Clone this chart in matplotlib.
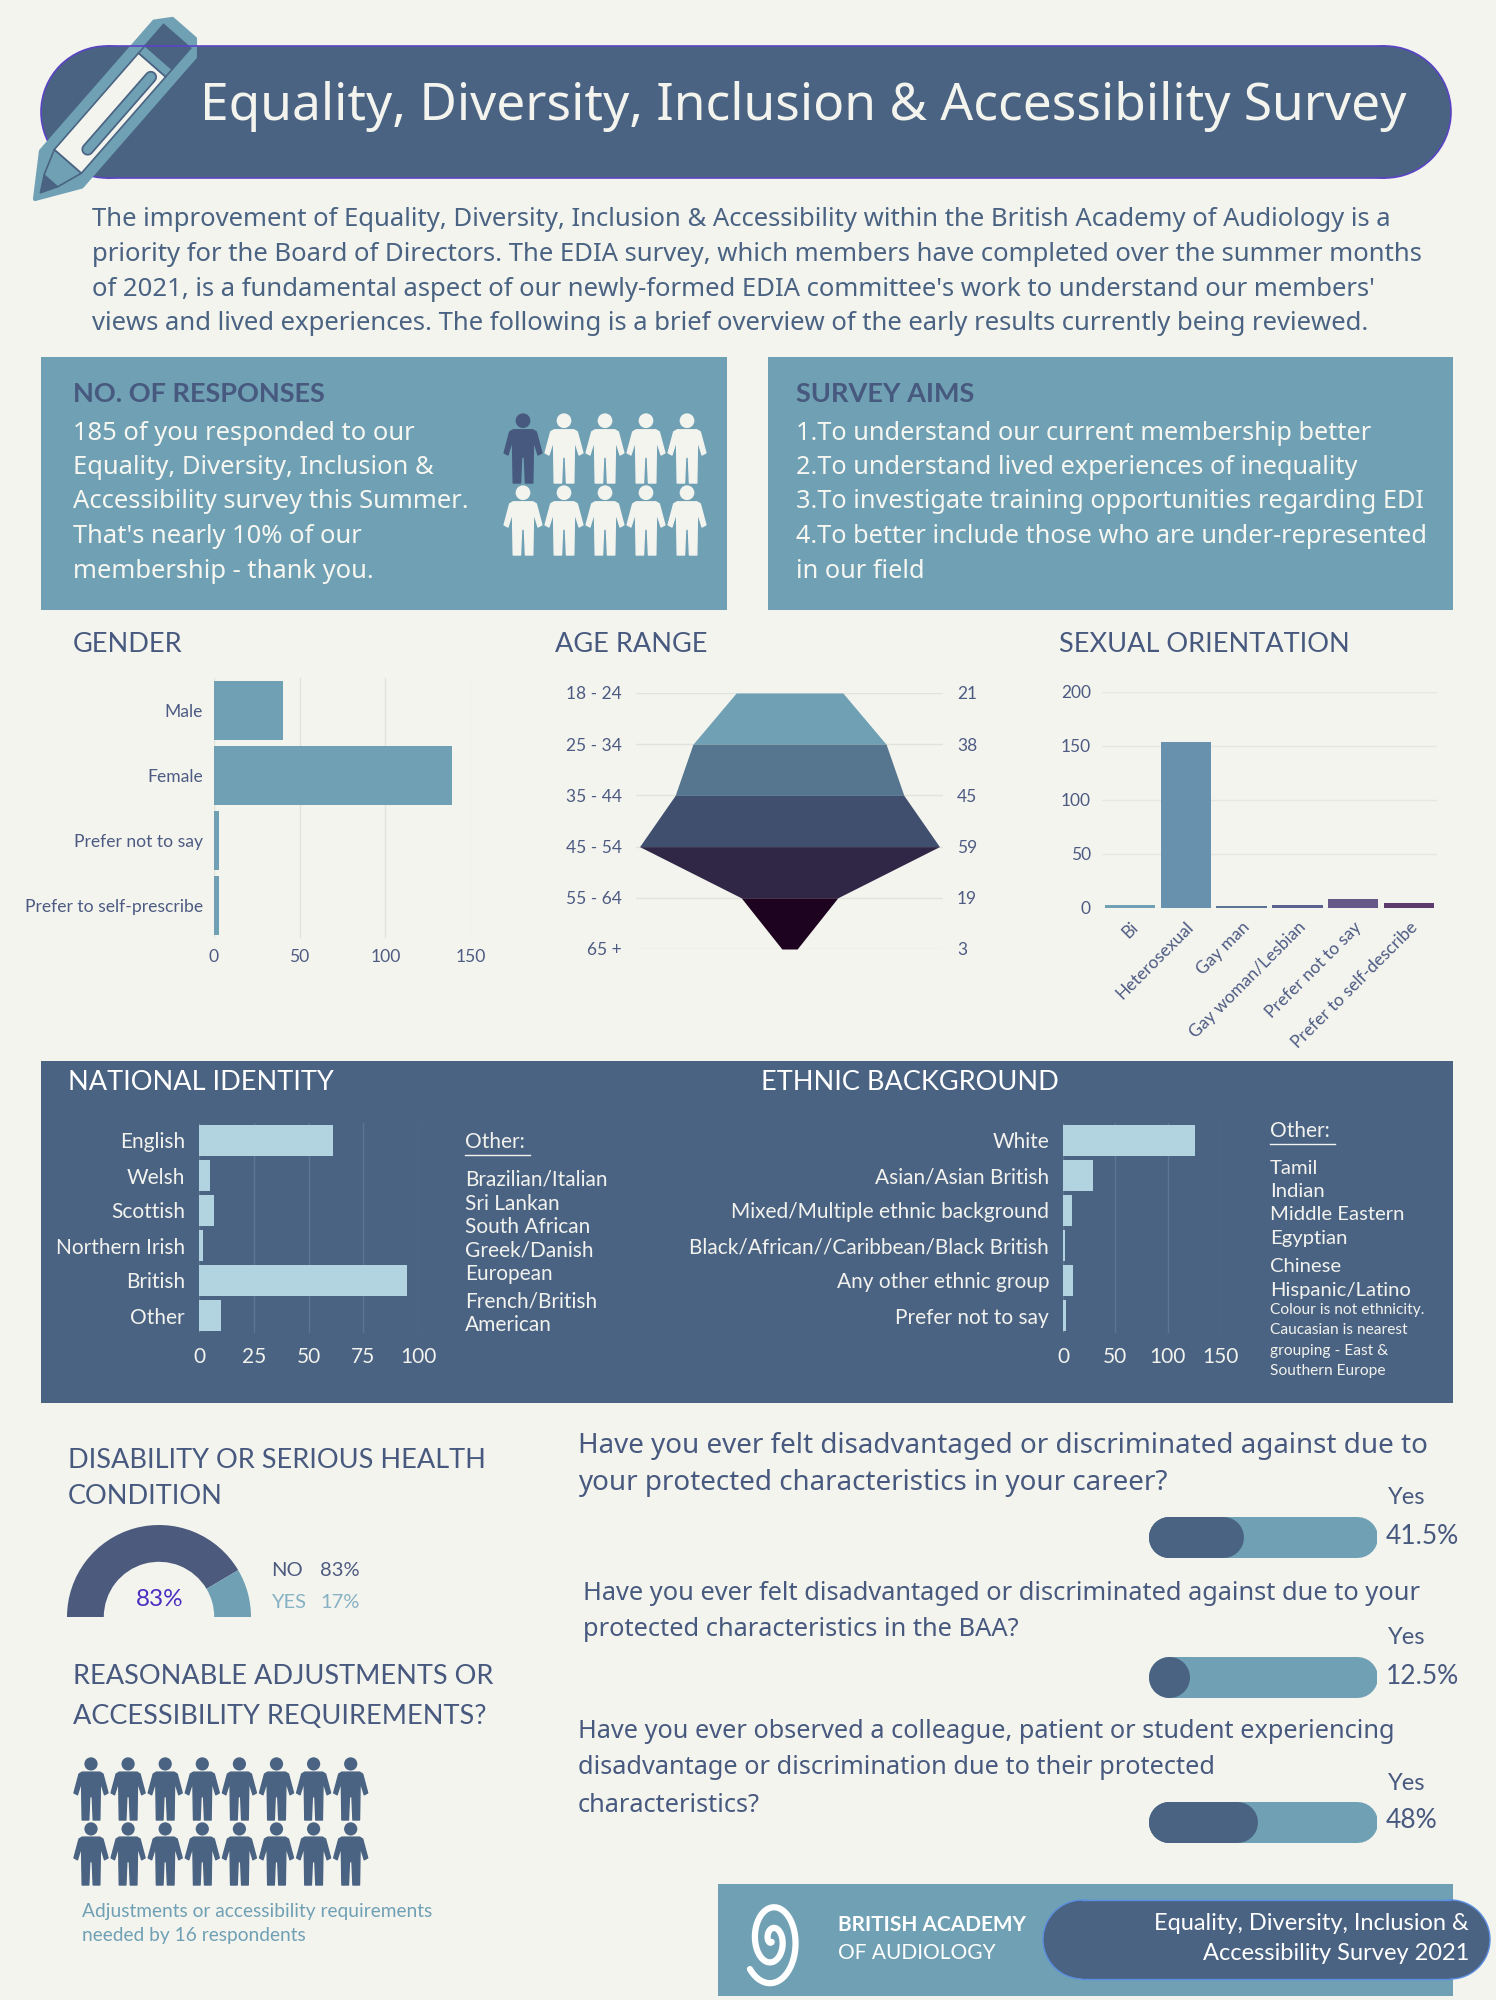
import numpy as np
import matplotlib.pyplot as plt
from matplotlib.patches import Polygon, Circle

plt.rcParams['font.family'] = ['Lato', 'DejaVu Sans']
BODY = ['Noto Sans', 'DejaVu Sans']

# ---- data ----
gender_labels = ["Male", "Female", "Prefer not to say", "Prefer to self-prescribe"]
gender_values = [40, 139, 3, 3]

age_labels = ["18 - 24", "25 - 34", "35 - 44", "45 - 54", "55 - 64", "65 +"]
age_values = [21, 38, 45, 59, 19, 3]

orient_labels = ["Bi", "Heterosexual", "Gay man", "Gay woman/Lesbian",
                 "Prefer not to say", "Prefer to self-describe"]
orient_values = [3, 154, 2, 3, 8, 5]

nat_labels = ["English", "Welsh", "Scottish", "Northern Irish", "British", "Other"]
nat_values = [61, 5, 7, 2, 95, 10]
nat_other = ["Brazilian/Italian", "Sri Lankan", "South African", "Greek/Danish",
             "European", "French/British", "American"]

eth_labels = ["White", "Asian/Asian British", "Mixed/Multiple ethnic background",
              "Black/African//Caribbean/Black British", "Any other ethnic group",
              "Prefer not to say"]
eth_values = [126, 29, 9, 2, 10, 3]
eth_other = ["Tamil", "Indian", "Middle Eastern", "Egyptian", "Chinese", "Hispanic/Latino"]
eth_note = ["Colour is not ethnicity.", "Caucasian is nearest", "grouping - East &",
            "Southern Europe"]

disability_labels = ["NO", "YES"]
disability_values = [83, 17]

questions = [
    ["Have you ever felt disadvantaged or discriminated against due to",
     "your protected characteristics in your career?"],
    ["Have you ever felt disadvantaged or discriminated against due to your",
     "protected characteristics in the BAA?"],
    ["Have you ever observed a colleague, patient or student experiencing",
     "disadvantage or discrimination due to their protected",
     "characteristics?"],
]
question_yes = [41.5, 12.5, 48]
question_yes_text = ["41.5%", "12.5%", "48%"]

responses_total = 185
adjustments_count = 16

# ---- colours ----
BG = "#f4f4ef"
TEAL = "#6fa0b4"
NAVY = "#4a6382"
INK = "#47597e"
LIGHT = "#b1d4e0"
W, H = 1496, 2000

fig = plt.figure(figsize=(W / 100, H / 100), dpi=100, facecolor=BG)
bg = fig.add_axes([0, 0, 1, 1])
bg.set_xlim(0, W)
bg.set_ylim(H, 0)
bg.axis('off')


def px_axes(x0, y0, x1, y1):
    a = fig.add_axes([x0 / W, 1 - y1 / H, (x1 - x0) / W, (y1 - y0) / H])
    a.set_facecolor('none')
    return a


def person(cx, top, h, color):
    pts = [(-0.14, 0.24), (0.14, 0.24), (0.19, 0.27), (0.27, 0.57), (0.215, 0.60),
           (0.15, 0.39), (0.14, 1.0), (0.035, 1.0), (0.02, 0.63), (-0.02, 0.63),
           (-0.035, 1.0), (-0.14, 1.0), (-0.15, 0.39), (-0.215, 0.60), (-0.27, 0.57),
           (-0.19, 0.27)]
    bg.add_patch(Polygon([(cx + x * h, top + y * h) for x, y in pts], closed=True,
                         fc=color, ec=color, lw=1, joinstyle='round'))
    bg.add_patch(Circle((cx, top + 0.11 * h), 0.105 * h, fc=color, ec='none'))


def pill(x0, y0, x1, y1, fc, ec='none', lw=0):
    r = (y1 - y0) / 2
    bg.add_patch(Circle((x0 + r, y0 + r), r, fc=fc, ec=ec, lw=lw))
    bg.add_patch(Circle((x1 - r, y0 + r), r, fc=fc, ec=ec, lw=lw))
    bg.add_patch(plt.Rectangle((x0 + r, y0), x1 - x0 - 2 * r, y1 - y0, fc=fc, ec='none'))
    if lw:
        bg.plot([x0 + r, x1 - r], [y0, y0], color=ec, lw=lw)
        bg.plot([x0 + r, x1 - r], [y1, y1], color=ec, lw=lw)


# ---- header ----
pill(41, 46, 1451, 178, NAVY, ec="#5b44c4", lw=1.2)
bg.text(803, 106, "Equality, Diversity, Inclusion & Accessibility Survey",
        color="#f4f4ef", fontsize=37, ha='center', va='center', family=BODY)

# pencil
T = np.array([35.0, 199.0])
d = np.array([145.0, -166.0])
d /= np.hypot(*d)
n = np.array([-d[1], d[0]])


def P(u, v):
    return T + u * d + v * n


def pshape(pts, **kw):
    bg.add_patch(Polygon([P(u, v) for u, v in pts], closed=True, **kw))


pshape([(0, 0), (40, -27), (212, -27), (226, -15), (226, 15), (212, 27), (40, 27)],
       fc=TEAL, ec=TEAL, lw=3, joinstyle='round')
pshape([(8, 0), (24, -9), (24, 9)], fc=NAVY, ec=NAVY, lw=1)
pshape([(24, -9), (50, -18), (50, 18), (24, 9)], fc=TEAL, ec=NAVY, lw=1.2)
pshape([(50, -18), (178, -18), (178, 18), (50, 18)], fc="#f4f4ef", ec=NAVY, lw=1.2)
pshape([(178, -18), (188, -18), (188, 18), (178, 18)], fc=TEAL, ec=NAVY, lw=1.2)
pshape([(188, -18), (216, -18), (216, 18), (188, 18)], fc=NAVY, ec=NAVY, lw=1.2)
a, b = P(72, 7), P(168, 7)
bg.plot([a[0], b[0]], [a[1], b[1]], color=NAVY, lw=9, solid_capstyle='round')
bg.plot([a[0], b[0]], [a[1], b[1]], color=TEAL, lw=6.5, solid_capstyle='round')

# ---- intro ----
intro = [
    "The improvement of Equality, Diversity, Inclusion & Accessibility within the British Academy of Audiology is a",
    "priority for the Board of Directors. The EDIA survey, which members have completed over the summer months",
    "of 2021, is a fundamental aspect of our newly-formed EDIA committee's work to understand our members'",
    "views and lived experiences. The following is a brief overview of the early results currently being reviewed.",
]
for i, line in enumerate(intro):
    bg.text(92, 220 + i * 34.5, line, color=NAVY, fontsize=18.5, va='center', family=BODY)

# ---- top boxes ----
bg.add_patch(plt.Rectangle((41, 357), 686, 253, fc=TEAL, ec='none'))
bg.add_patch(plt.Rectangle((768, 357), 685, 253, fc=TEAL, ec='none'))
bg.text(73, 394, "NO. OF RESPONSES", color=INK, fontsize=19.5, fontweight='bold', va='center')
resp_lines = [f"{responses_total} of you responded to our", "Equality, Diversity, Inclusion &",
              "Accessibility survey this Summer.", "That's nearly 10% of our",
              "membership - thank you."]
for i, line in enumerate(resp_lines):
    bg.text(73, 433 + i * 34.5, line, color="#f7f7f2", fontsize=18.4, va='center', family=BODY)
for r in range(2):
    for c in range(5):
        person(523 + c * 41, 413 + r * 72, 70, INK if (r == 0 and c == 0) else "#f4f4ef")

bg.text(796, 394, "SURVEY AIMS", color=INK, fontsize=19.5, fontweight='bold', va='center')
aims = ["1.To understand our current membership better",
        "2.To understand lived experiences of inequality",
        "3.To investigate training opportunities regarding EDI",
        "4.To better include those who are under-represented",
        "in our field"]
for i, line in enumerate(aims):
    bg.text(796, 433 + i * 34.5, line, color="#f7f7f2", fontsize=18.2, va='center', family=BODY)

# ---- section titles ----
bg.text(73, 644, "GENDER", color=INK, fontsize=19.5, va='center')
bg.text(555, 644, "AGE RANGE", color=INK, fontsize=19.5, va='center')
bg.text(1059, 644, "SEXUAL ORIENTATION", color=INK, fontsize=19.5, va='center')

LBL = "#4d5b82"

# ---- gender ----
ax = px_axes(214, 678, 471, 938)
y = np.arange(len(gender_values))
ax.barh(y, gender_values, height=0.9, color=TEAL, zorder=2)
ax.set_xlim(0, 150)
ax.set_ylim(len(gender_values) - 0.5, -0.5)
ax.set_xticks([0, 50, 100, 150])
ax.set_yticks(y)
ax.set_yticklabels(gender_labels)
ax.grid(axis='x', color="#e3e3dd", lw=1, zorder=0)
for s in ax.spines.values():
    s.set_visible(False)
ax.tick_params(length=0, labelsize=12.6, labelcolor=LBL, pad=8)

# ---- age range funnel ----
ax = px_axes(636, 693, 943, 949)
half = np.array(age_values) / 2
band_colors = ["#6fa0b4", "#56758f", "#414f6e", "#302646", "#1e0320"]
for i in range(len(age_values) - 1):
    ax.fill_betweenx([i, i + 1], [-half[i], -half[i + 1]], [half[i], half[i + 1]],
                     color=band_colors[i], lw=0, zorder=2)
ax.set_xlim(-30.2, 30.2)
ax.set_ylim(len(age_values) - 1, 0)
ax.set_yticks(range(len(age_values)))
ax.set_yticklabels(age_labels)
ax.set_xticks([])
ax.grid(axis='y', color="#e3e3dd", lw=1, zorder=0)
for s in ax.spines.values():
    s.set_visible(False)
ax.tick_params(length=0, labelsize=12.5, labelcolor=LBL, pad=10)
ax2 = ax.twinx()
ax2.set_ylim(len(age_values) - 1, 0)
ax2.set_yticks(range(len(age_values)))
ax2.set_yticklabels([str(v) for v in age_values])
for s in ax2.spines.values():
    s.set_visible(False)
ax2.tick_params(length=0, labelsize=12.5, labelcolor=LBL, pad=10)

# ---- sexual orientation ----
ax = px_axes(1102, 692, 1437, 908)
orient_colors = ["#6fa0b4", "#6891ae", "#5c7396", "#5a6390", "#66598a", "#5e3b6e"]
x = np.arange(len(orient_values))
ax.bar(x, orient_values, width=0.9, color=orient_colors, zorder=2)
ax.set_ylim(0, 200)
ax.set_xlim(-0.5, len(orient_values) - 0.5)
ax.set_yticks([0, 50, 100, 150, 200])
ax.set_xticks(x)
ax.set_xticklabels(orient_labels, rotation=45, ha='right', rotation_mode='anchor')
ax.grid(axis='y', color="#e7e7e1", lw=1, zorder=0)
for s in ax.spines.values():
    s.set_visible(False)
ax.tick_params(length=0, labelsize=12.5, labelcolor=LBL, pad=8)

# ---- national identity / ethnic background panel ----
bg.add_patch(plt.Rectangle((41, 1061), 1412, 342, fc=NAVY, ec='none'))
bg.text(68, 1083, "NATIONAL IDENTITY", color="white", fontsize=19.5, va='center')
bg.text(761, 1083, "ETHNIC BACKGROUND", color="white", fontsize=19.5, va='center')

ax = px_axes(199, 1123, 418, 1333)
y = np.arange(len(nat_values))
ax.barh(y, nat_values, height=0.88, color=LIGHT, zorder=2)
ax.set_xlim(0, 100)
ax.set_ylim(len(nat_values) - 0.5, -0.5)
ax.set_xticks([0, 25, 50, 75, 100])
ax.set_yticks(y)
ax.set_yticklabels(nat_labels)
ax.grid(axis='x', color="#5b7594", lw=1, zorder=0)
for s in ax.spines.values():
    s.set_visible(False)
ax.tick_params(length=0, labelsize=15, labelcolor="#f2f2ee", pad=10)

bg.text(465, 1142, "Other:", color="#f2f2ee", fontsize=15, va='center')
bg.plot([465, 530], [1155, 1155], color="#f2f2ee", lw=1)
for i, item in enumerate(nat_other):
    yy = 1180 + i * 23.5 + (4 if i >= 5 else 0)
    bg.text(465, yy, item, color="#f2f2ee", fontsize=15, va='center')

ax = px_axes(1063, 1123, 1220, 1333)
y = np.arange(len(eth_values))
ax.barh(y, eth_values, height=0.88, color=LIGHT, zorder=2)
ax.set_xlim(0, 150)
ax.set_ylim(len(eth_values) - 0.5, -0.5)
ax.set_xticks([0, 50, 100, 150])
ax.set_yticks(y)
ax.set_yticklabels(eth_labels)
ax.grid(axis='x', color="#5b7594", lw=1, zorder=0)
for s in ax.spines.values():
    s.set_visible(False)
ax.tick_params(length=0, labelsize=15, labelcolor="#f2f2ee", pad=10)

bg.text(1270, 1131, "Other:", color="#f2f2ee", fontsize=15, va='center')
bg.plot([1270, 1335], [1144, 1144], color="#f2f2ee", lw=1)
for i, item in enumerate(eth_other):
    yy = 1168 + i * 23.5 + (5 if i >= 4 else 0)
    bg.text(1270, yy, item, color="#f2f2ee", fontsize=14.6, va='center')
for i, item in enumerate(eth_note):
    bg.text(1270, 1310 + i * 20.5, item, color="#f2f2ee", fontsize=11.2, va='center')

# ---- disability ----
bg.text(68, 1460, "DISABILITY OR SERIOUS HEALTH", color=INK, fontsize=19.5, va='center')
bg.text(68, 1497, "CONDITION", color=INK, fontsize=19.5, va='center')
ax = px_axes(67, 1525, 251, 1709)
ax.pie(disability_values + [sum(disability_values)], colors=["#4c5a7e", TEAL, 'none'],
       startangle=180, counterclock=False, radius=1,
       wedgeprops=dict(width=0.40, lw=0))
ax.set_xlim(-1, 1)
ax.set_ylim(-1, 1)
ax.set_aspect('equal')
bg.text(160, 1600, f"{disability_values[0]}%", color="#4b2ec0", fontsize=17.5,
        ha='center', va='center')
bg.text(271, 1570, f"{disability_labels[0]}", color="#4c5a7e", fontsize=14.5, va='center')
bg.text(320, 1570, f"{disability_values[0]}%", color="#4c5a7e", fontsize=14.5, va='center')
bg.text(271, 1602, f"{disability_labels[1]}", color="#86b2c4", fontsize=14.5, va='center')
bg.text(320, 1602, f"{disability_values[1]}%", color="#86b2c4", fontsize=14.5, va='center')

# ---- reasonable adjustments ----
bg.text(73, 1677, "REASONABLE ADJUSTMENTS OR", color=INK, fontsize=19.5, va='center')
bg.text(73, 1717, "ACCESSIBILITY REQUIREMENTS?", color=INK, fontsize=19.5, va='center')
for k in range(adjustments_count):
    r, c = divmod(k, 8)
    person(91 + c * 37.1, 1757 + r * 65, 63, NAVY)
bg.text(82, 1911, "Adjustments or accessibility requirements", color=TEAL, fontsize=13.8, va='center')
bg.text(82, 1935, f"needed by {adjustments_count} respondents", color=TEAL, fontsize=13.8, va='center')

# ---- questions ----
q_text_y = [1446, 1593, 1731]
q_text_x = [578, 583, 578]
q_size = [20, 18.3, 18.2]
bar_y = [1537, 1677, 1822]
for qi, lines in enumerate(questions):
    for li, line in enumerate(lines):
        bg.text(q_text_x[qi], q_text_y[qi] + li * 37, line, color=INK, fontsize=q_size[qi],
                va='center', family=BODY)
    bg.text(1388, bar_y[qi] - 39, "Yes", color=INK, fontsize=17, va='center')
    bg.text(1386, bar_y[qi] - 1, question_yes_text[qi], color=INK, fontsize=19, va='center')
    ax = px_axes(1148, bar_y[qi] - 21, 1377, bar_y[qi] + 21)
    ax.set_xlim(0, 100)
    ax.set_ylim(-1, 1)
    ax.axis('off')
    rr = 20.5 / 229 * 100
    ax.plot([rr, 100 - rr], [0, 0], color=TEAL, lw=29.5, solid_capstyle='round')
    ax.plot([rr], [0], marker='o', ms=29.5, mew=0, color=NAVY)
    ax.plot([rr, max(question_yes[qi] - rr, rr)], [0, 0], color=NAVY, lw=29.5,
            solid_capstyle='round')

# ---- footer ----
bg.add_patch(plt.Rectangle((718, 1884), 735, 112, fc=TEAL, ec='none'))
pill(1043, 1900, 1490, 1979, NAVY, ec="#5c8fe0", lw=1)
bg.text(1469, 1923, "Equality, Diversity, Inclusion &", color="white", fontsize=17,
        ha='right', va='center')
bg.text(1469, 1954, "Accessibility Survey 2021", color="white", fontsize=17,
        ha='right', va='center')
t = np.linspace(0.6, 4.4 * np.pi, 400)
rad = 46 * t / t.max()
bg.plot(772 + 0.62 * rad * np.cos(t + 1.2), 1940 + rad * np.sin(t + 1.2),
        color="white", lw=4.5, solid_capstyle='round')
bg.text(838, 1925, "BRITISH ACADEMY", color="white", fontsize=15, fontweight='bold', va='center')
bg.text(838, 1953, "OF AUDIOLOGY", color="white", fontsize=15, va='center')

fig.savefig("out.png", dpi=100, facecolor=BG)
